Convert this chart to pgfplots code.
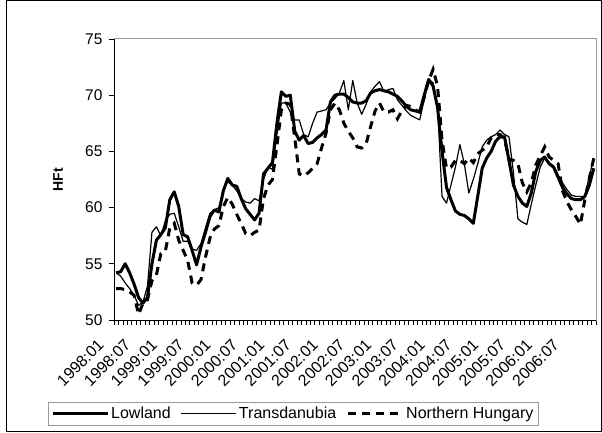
\documentclass[border=0pt]{standalone}
\usepackage{fontspec}
\setmainfont{Liberation Sans}
\usepackage{pgfplots}
\usepackage{pgfplotstable}
\pgfplotsset{compat=1.18}

% monthly index, 0 = 1998:01
\pgfplotstableread{
i low trans nh
0 54.2 54.2 52.8
1 54.3 53.9 52.8
2 55.0 53.3 52.7
3 54.2 52.8 52.5
4 53.2 52.2 52.2
5 52.0 51.3 50.5
6 51.5 51.6 51.5
7 52.0 53.0 51.8
8 55.0 57.8 53.5
9 57.1 58.3 54.0
10 57.6 57.5 55.9
11 58.2 58.8 56.1
12 60.7 59.4 58.2
13 61.4 59.5 58.6
14 60.1 58.3 57.1
15 57.6 57.0 56.2
16 57.4 57.0 55.3
17 56.2 56.3 53.3
18 54.9 56.2 53.1
19 56.5 56.8 53.6
20 57.8 58.2 55.6
21 59.2 59.5 57.3
22 59.8 59.8 58.1
23 59.6 60.0 58.4
24 61.5 61.6 60.1
25 62.6 62.3 60.9
26 62.0 62.0 60.3
27 61.9 61.5 59.4
28 60.8 60.8 58.6
29 59.9 60.5 57.7
30 59.4 60.4 57.5
31 58.9 60.8 57.8
32 59.5 60.6 58.0
33 63.0 62.5 60.8
34 63.5 63.6 62.0
35 64.0 63.4 62.5
36 67.5 66.5 65.5
37 70.3 69.3 68.7
38 69.9 69.3 69.3
39 70.0 68.5 69.2
40 66.8 67.8 66.2
41 66.0 67.8 63.0
42 66.4 66.5 62.8
43 65.7 66.3 63.1
44 65.8 67.5 63.5
45 66.2 68.5 63.9
46 66.5 68.6 65.3
47 66.9 68.7 66.6
48 69.4 69.3 68.7
49 70.0 69.7 69.3
50 70.1 70.2 68.7
51 70.1 71.3 67.5
52 69.8 68.7 66.8
53 69.4 71.3 66.2
54 69.3 69.3 65.4
55 69.3 68.3 65.3
56 69.5 69.2 65.7
57 70.2 70.3 67.2
58 70.4 70.8 68.6
59 70.5 71.2 69.3
60 70.4 70.3 68.5
61 70.3 70.5 68.5
62 70.1 70.6 68.7
63 69.9 69.6 67.9
64 69.5 69.1 68.6
65 69.0 68.6 69.1
66 68.7 68.2 69.0
67 68.6 68.0 68.7
68 68.5 67.8 68.5
69 70.0 69.6 69.8
70 71.4 71.4 71.3
71 70.8 71.1 72.3
72 68.9 69.0 70.8
73 65.0 61.0 66.0
74 61.8 60.4 63.5
75 60.7 62.0 63.6
76 59.7 63.6 64.2
77 59.4 65.6 64.2
78 59.3 63.9 63.9
79 59.0 61.3 64.4
80 58.6 62.5 64.0
81 61.0 63.9 64.8
82 63.5 65.4 65.1
83 64.4 66.0 65.4
84 65.0 66.3 66.2
85 65.9 66.5 66.5
86 66.3 66.9 66.5
87 66.3 66.5 66.1
88 64.2 66.3 64.3
89 62.0 63.1 64.2
90 61.0 59.0 63.9
91 60.4 58.7 62.2
92 60.1 58.5 61.4
93 61.3 60.3 62.2
94 63.2 62.0 63.8
95 64.2 63.6 64.6
96 64.5 64.4 65.4
97 63.9 64.0 64.5
98 63.6 63.7 64.2
99 62.7 62.9 63.9
100 61.8 62.2 61.5
101 61.2 61.6 60.5
102 60.8 61.1 59.8
103 60.7 61.0 59.2
104 60.7 61.0 58.5
105 61.0 61.0 60.7
106 62.0 62.8 62.6
107 63.5 64.4 64.4
}\hftdata

\begin{document}
\begin{tikzpicture}[x=1bp,y=1bp]
\draw[line width=1bp] (6.5,0.5) rectangle (601.5,431.5);
\begin{axis}[
    at={(114bp,112bp)}, anchor=south west,
    scale only axis,
    width=482bp, height=281bp,
    xmin=-0.5, xmax=107.5,
    ymin=50, ymax=75,
    xtick={0,6,...,102},
    xticklabels={1998:01,1998:07,1999:01,1999:07,2000:01,2000:07,2001:01,2001:07,2002:01,2002:07,2003:01,2003:07,2004:01,2004:07,2005:01,2005:07,2006:01,2006:07},
    minor xtick={-0.5,0.5,...,107.5},
    ytick={50,55,...,75},
    minor ytick={50,55,...,75},
    tick align=outside,
    tick pos=left,
    major tick length=0pt,
    minor tick length=5bp,
    tick style={black, line width=0.8bp},
    axis line style={draw=gray!80, line width=1bp},
    /pgf/number format/assume math mode=true,
    x tick label style={font=\fontsize{16bp}{18bp}\selectfont,
      xshift=-13bp, yshift=-20bp, rotate=45, anchor=east},
    y tick label style={font=\fontsize{15.5bp}{17bp}\selectfont, xshift=-8bp},
    ylabel={\textbf{HFt}},
    ylabel style={at={(axis description cs:-0.116,0.5)}, anchor=center,
      font=\fontsize{14bp}{16bp}\selectfont},
    legend columns=3,
    legend image code/.code={\draw[#1,line cap=butt] (0bp,0bp) -- (55bp,0bp);},
    legend style={at={(0.372,-0.333)}, anchor=center, draw=gray!80, line width=0.8bp,
      font=\fontsize{16bp}{18bp}\selectfont, inner xsep=3bp, inner ysep=3bp,
      /tikz/every even column/.append style={column sep=8bp},
      /tikz/every odd column/.append style={column sep=0bp}},
    after end axis/.code={
      \draw[black, line width=1bp] (rel axis cs:0,1) -- (rel axis cs:0,0) -- (rel axis cs:1,0);
    },
]
\addplot[black, line width=3bp, line join=round] table[x=i, y=low] {\hftdata};
\addplot[black, line width=1.2bp, line join=round] table[x=i, y=trans] {\hftdata};
\addplot[black, line width=3bp, dash pattern=on 8bp off 6bp] table[x=i, y=nh] {\hftdata};
\legend{Lowland,Transdanubia,Northern Hungary}
\end{axis}
\pgfresetboundingbox
\path[use as bounding box] (0,0) rectangle (602,432);
\end{tikzpicture}
\end{document}
